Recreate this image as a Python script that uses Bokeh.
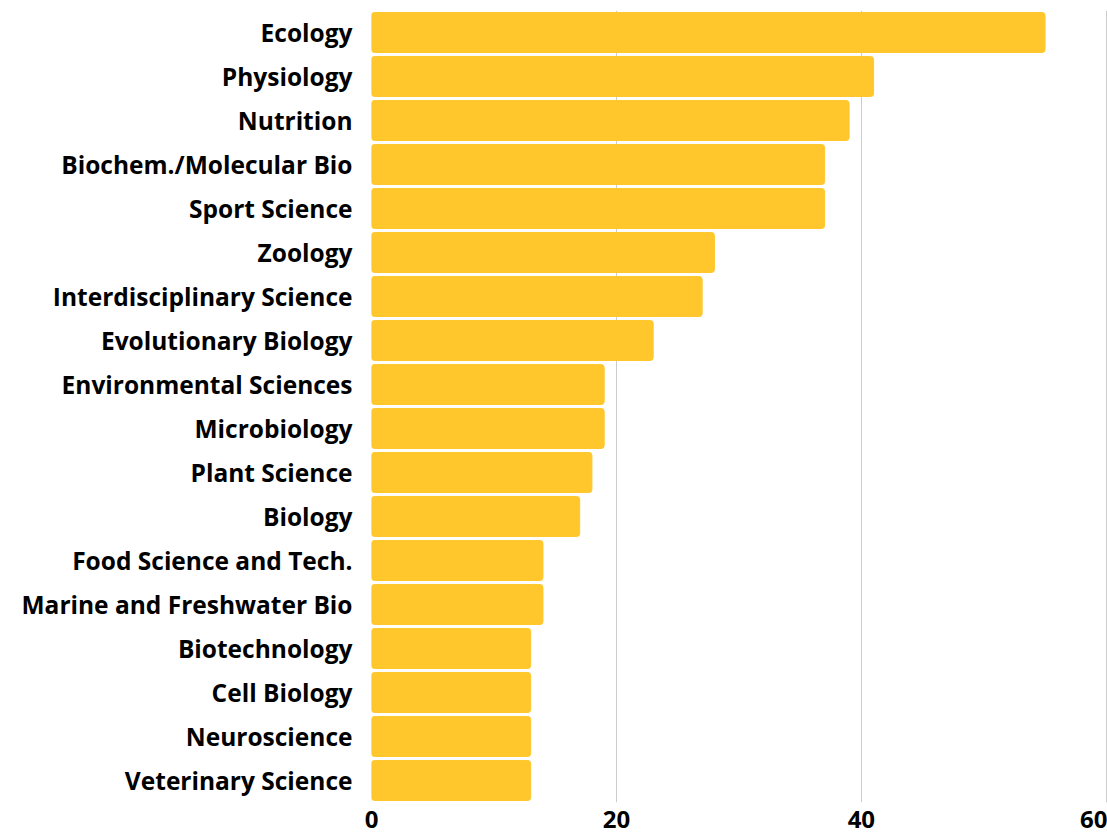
from bokeh.plotting import figure
from bokeh.models import FactorRange, Range1d, FixedTicker
from bokeh.embed import file_html
from bokeh.resources import INLINE

categories = [
    "Ecology", "Physiology", "Nutrition", "Biochem./Molecular Bio", "Sport Science",
    "Zoology", "Interdisciplinary Science", "Evolutionary Biology", "Environmental Sciences",
    "Microbiology", "Plant Science", "Biology", "Food Science and Tech.",
    "Marine and Freshwater Bio", "Biotechnology", "Cell Biology", "Neuroscience",
    "Veterinary Science",
]
values = [55, 41, 39, 37, 37, 28, 27, 23, 19, 19, 18, 17, 14, 14, 13, 13, 13, 13]
x_ticks = [0, 20, 40, 60]

p = figure(
    y_range=FactorRange(factors=categories[::-1], range_padding=0),
    x_range=Range1d(0, 60.1),
    width=1107, height=834,
    output_backend="svg", toolbar_location=None,
    min_border_left=371, min_border_right=0, min_border_top=10, min_border_bottom=32,
)
p.hbar(y=categories, left=0, right=values, height=0.91,
       fill_color="#FFC72C", line_color="#FFC72C", border_radius=3)

p.outline_line_color = None
p.ygrid.grid_line_color = None
p.xgrid.grid_line_color = "#cccccc"
p.xgrid.grid_line_width = 1

p.xaxis.ticker = FixedTicker(ticks=x_ticks)
for ax in (p.xaxis[0], p.yaxis[0]):
    ax.axis_line_color = None
    ax.major_tick_line_color = None
    ax.minor_tick_line_color = None
    ax.major_tick_out = 0
    ax.major_tick_in = 0
    ax.major_label_text_font = "Open Sans"
    ax.major_label_text_font_style = "bold"
    ax.major_label_text_color = "#000000"

p.yaxis.major_label_text_font_size = "24.5px"
p.xaxis.major_label_text_font_size = "24px"
p.yaxis.major_label_standoff = 19
p.xaxis.major_label_standoff = 8

open("out.html", "w").write(file_html(p, INLINE))
